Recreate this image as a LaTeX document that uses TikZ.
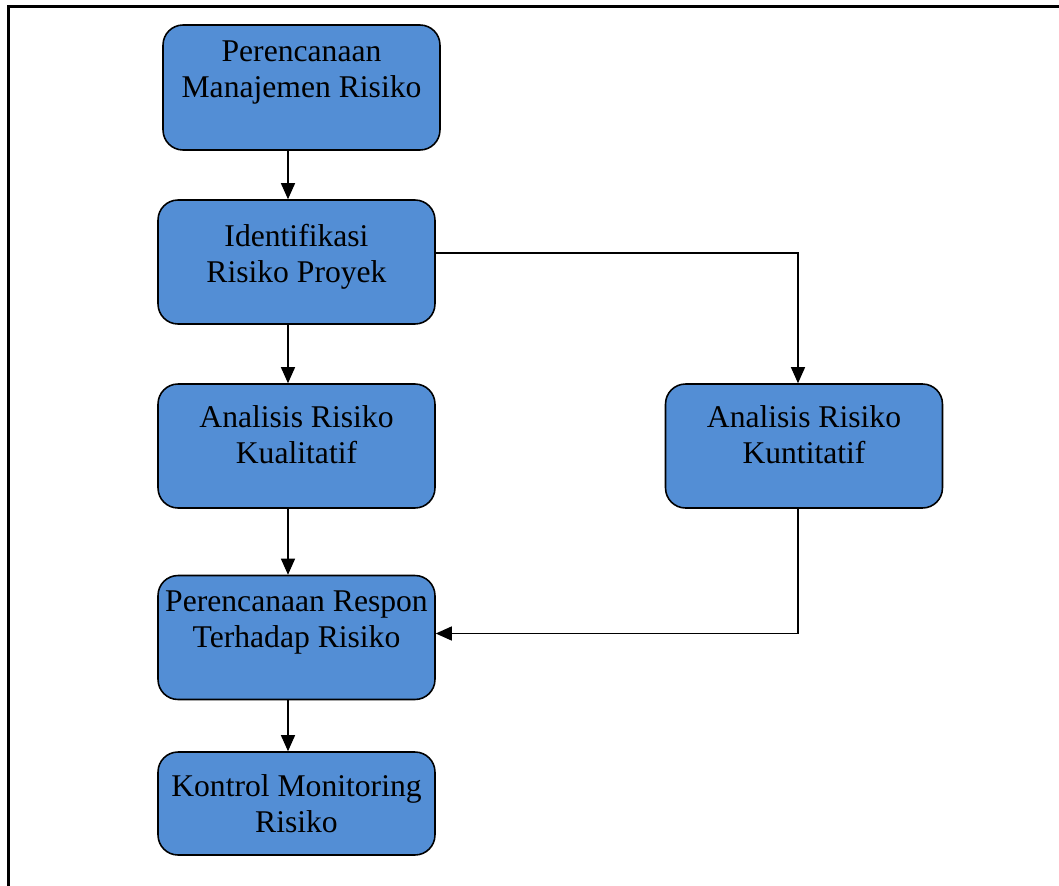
\documentclass[tikz,border=0pt]{standalone}
\usepackage{fontspec}
\setmainfont{Liberation Serif}
\usetikzlibrary{arrows.meta}
\usetikzlibrary{calc}
\definecolor{boxblue}{RGB}{83,142,213}

\begin{document}
\begin{tikzpicture}[x=0.02cm, y=-0.02cm,
		box/.style={draw, line width=0.9pt, fill=boxblue, rounded corners=0.4cm,
			minimum width=5.54cm, minimum height=2.48cm, inner xsep=2pt,
			align=center, font=\fontsize{18}{20.5}\selectfont},
		arr/.style={line width=0.7pt, -{Triangle[length=0.32cm, width=0.28cm]}}]
		\useasboundingbox (0,0) rectangle (1059,886);
		\draw[line width=1.4pt] (8.5,886) -- (8.5,6.5) -- (1059,6.5);
		\node[box, minimum height=2.5cm] (plan) at (301.5,87.5) {Perencanaan\\Manajemen Risiko\\ \mbox{}};
		\node[box] (ident) at (296.5,262) {Identifikasi\\Risiko Proyek\\[-11pt]\mbox{}};
		\node[box] (kual) at (296.5,446) {Analisis Risiko\\Kualitatif\\[-7pt]\mbox{}};
		\node[box] (kuan) at (804,446) {Analisis Risiko\\Kuntitatif\\[-7pt]\mbox{}};
		\node[box] (respon) at (296.5,637.5) {Perencanaan Respon\\Terhadap Risiko\\ \mbox{}};
		\node[box, minimum height=2.06cm] (kontrol) at (296.5,803.5) {Kontrol Monitoring\\Risiko};
		\coordinate (axis) at (288,0);
		\coordinate (branch) at (798,0);
		\draw[arr] (plan.south -| axis) -- (ident.north -| axis);
		\draw[arr] (ident.south -| axis) -- (kual.north -| axis);
		\draw[arr] (kual.south -| axis) -- (respon.north -| axis);
		\draw[arr] (respon.south -| axis) -- (kontrol.north -| axis);
		\draw[arr] ($(ident.east)+(0,-9)$) -| (kuan.north -| branch);
		\draw[arr] (kuan.south -| branch) |- ($(respon.east)+(0,-4)$);
	\end{tikzpicture}
\end{document}
